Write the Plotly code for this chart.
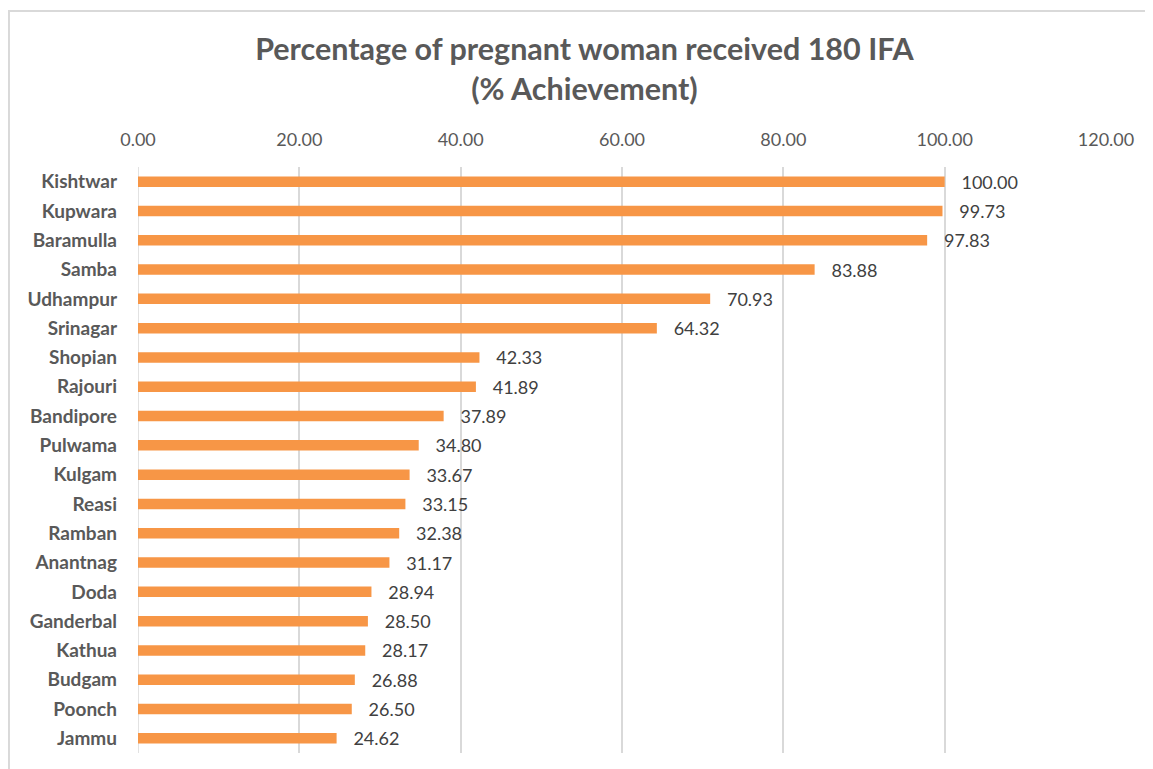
import plotly.graph_objects as go

districts = ["Kishtwar", "Kupwara", "Baramulla", "Samba", "Udhampur", "Srinagar",
             "Shopian", "Rajouri", "Bandipore", "Pulwama", "Kulgam", "Reasi",
             "Ramban", "Anantnag", "Doda", "Ganderbal", "Kathua", "Budgam",
             "Poonch", "Jammu"]
achievement = [100.00, 99.73, 97.83, 83.88, 70.93, 64.32, 42.33, 41.89, 37.89,
               34.80, 33.67, 33.15, 32.38, 31.17, 28.94, 28.50, 28.17, 26.88,
               26.50, 24.62]
x_ticks = [0, 20, 40, 60, 80, 100, 120]

fig = go.Figure()
fig.add_trace(
    go.Bar(
        x=achievement,
        y=districts,
        orientation="h",
        marker=dict(color="#F79646", line=dict(width=0)),
        width=0.36,
        text=["   " + f"{v:.2f}" for v in achievement],
        textposition="outside",
        constraintext="none",
        cliponaxis=False,
        textfont=dict(family="Lato", size=18, color="#404040"),
    )
)

# the page body adds an 8px offset, margins below account for it
fig.update_layout(
    width=1153,
    height=769,
    paper_bgcolor="white",
    plot_bgcolor="white",
    showlegend=False,
    margin=dict(l=130, r=55, t=159, b=24),
    title=dict(
        text="Percentage of pregnant woman received 180 IFA<br>(% Achievement)",
        x=0.5,
        xref="container",
        y=1 - 52 / 769,
        yref="container",
        yanchor="top",
        font=dict(family="Lato", size=30.5, color="#595959", weight="bold"),
    ),
    xaxis=dict(
        side="top",
        range=[0, 120],
        tickvals=x_ticks,
        tickformat=".2f",
        showgrid=True,
        gridcolor="#D9D9D9",
        gridwidth=1.5,
        zeroline=False,
        showline=False,
        ticks="",
        automargin=False,
        ticklabelstandoff=16,
        tickfont=dict(family="Lato", size=18, color="#595959"),
    ),
    yaxis=dict(
        autorange="reversed",
        showgrid=False,
        ticks="",
        automargin=False,
        ticklabelstandoff=20,
        tickfont=dict(family="Lato", size=19, color="#595959", weight="bold"),
    ),
    shapes=[
        dict(type="line", xref="x", yref="paper", x0=0, x1=0, y0=0, y1=1,
             line=dict(color="#D9D9D9", width=1.5), layer="below"),
        dict(type="rect", xref="paper", yref="paper",
             x0=-0.1333, x1=1.2, y0=-0.2, y1=1.266,
             line=dict(color="#D9D9D9", width=2), layer="below"),
    ],
)

fig.write_html("out.html")
